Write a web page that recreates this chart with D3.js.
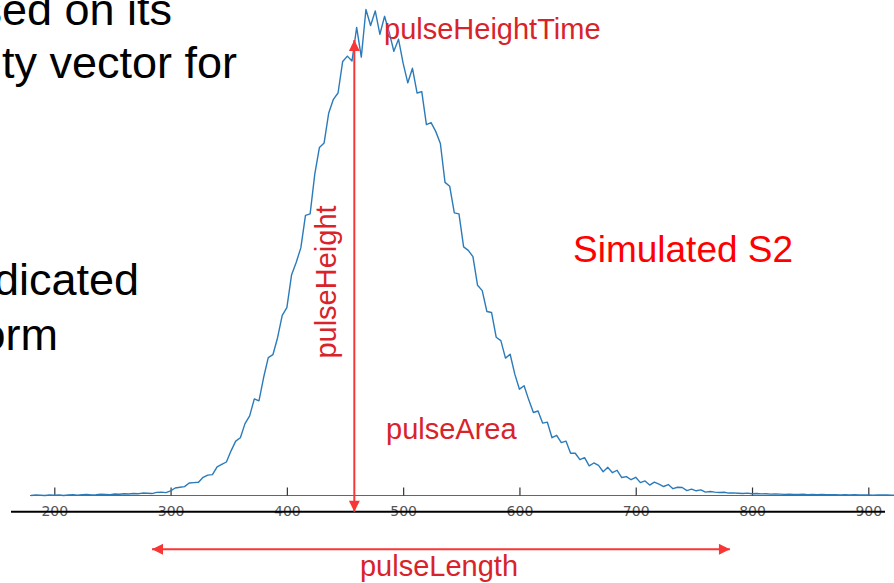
<!DOCTYPE html>
<html><head><meta charset="utf-8">
<script src="https://cdn.jsdelivr.net/npm/d3@7"></script>
<style>html,body{margin:0;padding:0;background:#fff;overflow:hidden}svg{display:block}</style>
</head><body>
<script>
// Sampled S2 waveform (time in samples, arbitrary amplitude units)
const t0 = 180, dt = 4;
const signal = [
0.0,0.1,0.05,0.0,0.1,0.05,0.1,0.0,0.1,0.15,
0.05,0.15,0.2,0.1,0.15,0.25,0.2,0.15,0.3,0.25,
0.35,0.3,0.4,0.35,0.5,0.45,0.4,0.65,0.7,0.6,
0.94,1.54,1.69,1.82,2.57,2.66,2.72,3.74,4.2,4.3,
5.9,6.4,6.9,9.2,11.2,11.9,14.8,16.4,19.9,19.5,
24.3,28.4,29.0,32.5,37.1,38.7,45.4,48.0,51.0,57.7,
58.0,66.2,71.7,72.6,78.8,81.6,82.9,89.4,90.5,89.5,
96.4,90.3,100.1,96.8,99.8,95.0,98.7,95.4,91.5,94.0,
89.0,85.0,88.0,82.9,83.2,76.4,76.8,75.0,72.5,64.5,
63.7,58.2,58.0,51.2,50.5,49.2,43.3,42.2,37.9,37.7,
32.6,31.9,28.3,29.1,25.0,21.9,22.6,19.7,17.1,17.4,
14.9,15.1,11.9,12.4,10.9,11.2,8.7,8.7,7.4,7.8,
6.1,6.7,6.2,4.9,5.8,4.7,5.2,3.7,3.9,3.25,
3.75,2.65,3.0,2.15,2.75,2.35,1.85,2.25,1.4,1.7,
1.65,1.02,1.32,0.97,1.15,0.7,
0.82,0.7,0.61,0.68,0.5,0.55,0.47,0.4,0.49,0.36,
0.4,0.33,0.36,0.28,0.31,0.29,0.24,0.29,0.22,0.2,
0.25,0.19,0.2,0.15,0.2,0.17,0.14,0.18,0.12,0.15,
0.11,0.14,0.1,0.12,0.13,0.08,0.12,0.09,0.11,0.07,0.1
];
const tickValues = [200,300,400,500,600,700,800,900];

// Annotation values (data units)
const heightTime = 458;           // pulseHeightTime marker
const heightTop = 93.8;           // top of pulseHeight arrow
const lengthRange = [284, 781];   // pulseLength arrow extent
const labels = ["pulseHeightTime","pulseHeight","pulseArea","pulseLength"];
const title = "Simulated S2";
const bodyLines = ["based on its","ty vector for","indicated","form"];

const W = 894, H = 583;
const svg = d3.select("body").append("svg").attr("width", W).attr("height", H);

const x = d3.scaleLinear().domain([200, 900]).range([54.3, 868.3]);
const y = d3.scaleLinear().domain([0, 100]).range([495.5, 10]);

const data = signal.map((v, i) => ({t: t0 + i * dt, v}));

// body text (partially visible slide text)
const bodyPos = [[172, 25], [237, 78], [139, 295], [58, 350]];
svg.selectAll("text.body").data(bodyLines).join("text")
  .attr("class", "body")
  .attr("x", (d, i) => bodyPos[i][0]).attr("y", (d, i) => bodyPos[i][1])
  .attr("text-anchor", "end")
  .attr("font-family", "Liberation Sans, Arial, sans-serif")
  .attr("font-size", 45).attr("fill", "#000").text(d => d);

// axis baseline (gray)
svg.append("line").attr("x1", 30).attr("x2", W).attr("y1", y(0)).attr("y2", y(0))
  .attr("stroke", "#666").attr("stroke-width", 1.2);

const axis = d3.axisBottom(x).tickValues(tickValues).tickSize(-8).tickPadding(11).tickFormat(d3.format("d"));
const gAxis = svg.append("g").attr("transform", `translate(0,${y(0)})`).call(axis);
gAxis.select(".domain").remove();
gAxis.selectAll(".tick line").attr("stroke", "#333").attr("stroke-width", 1.2);
gAxis.selectAll(".tick text").attr("font-family", "DejaVu Sans, sans-serif")
  .attr("font-size", 14).attr("fill", "#555");

// waveform
svg.append("path").datum(data)
  .attr("fill", "none").attr("stroke", "#2b7bba").attr("stroke-width", 1.4)
  .attr("stroke-linejoin", "round")
  .attr("d", d3.line().x(d => x(d.t)).y(d => y(d.v)));

// black rule
svg.append("line").attr("x1", 11).attr("x2", 885).attr("y1", 511.7).attr("y2", 511.7)
  .attr("stroke", "#000").attr("stroke-width", 2);

// arrow markers
const red = "#f83636";
svg.append("defs").append("marker").attr("id", "ah")
  .attr("viewBox", "0 0 10 10").attr("refX", 10).attr("refY", 5)
  .attr("markerUnits", "userSpaceOnUse").attr("markerWidth", 14).attr("markerHeight", 11)
  .attr("orient", "auto-start-reverse")
  .append("path").attr("d", "M0,0L10,5L0,10z").attr("fill", red);

svg.append("line")
  .attr("x1", x(heightTime)).attr("x2", x(heightTime))
  .attr("y1", y(heightTop)).attr("y2", 511.7)
  .attr("stroke", red).attr("stroke-width", 2)
  .attr("marker-start", "url(#ah)").attr("marker-end", "url(#ah)");

svg.append("line")
  .attr("x1", x(lengthRange[0])).attr("x2", x(lengthRange[1]))
  .attr("y1", 549.3).attr("y2", 549.3)
  .attr("stroke", red).attr("stroke-width", 2)
  .attr("marker-start", "url(#ah)").attr("marker-end", "url(#ah)");

// labels
const lab = "#d8232a";
const font = "Liberation Sans, Arial, sans-serif";
svg.append("text").attr("x", 384).attr("y", 39).attr("font-family", font)
  .attr("font-size", 29).attr("fill", lab).text(labels[0]);
svg.append("text").attr("transform", "translate(336,282) rotate(-90)")
  .attr("text-anchor", "middle").attr("font-family", font)
  .attr("font-size", 29).attr("fill", lab).text(labels[1]);
svg.append("text").attr("x", 386).attr("y", 439).attr("font-family", font)
  .attr("font-size", 29).attr("fill", lab).text(labels[2]);
svg.append("text").attr("x", 439).attr("y", 576).attr("text-anchor", "middle")
  .attr("font-family", font).attr("font-size", 29).attr("fill", lab).text(labels[3]);
svg.append("text").attr("x", 573).attr("y", 262).attr("font-family", font)
  .attr("font-size", 37).attr("fill", "#ff0000").text(title);
</script>
</body></html>
